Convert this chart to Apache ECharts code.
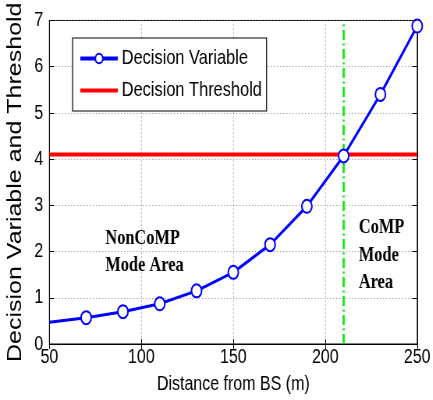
<!DOCTYPE html>
<html>
<head>
<meta charset="utf-8">
<script src="https://cdn.jsdelivr.net/npm/echarts@6/dist/echarts.min.js"></script>
<style>
html,body{margin:0;padding:0;overflow:hidden;background:#fff;}
#outer{width:433px;height:400px;overflow:hidden;}
#chart{width:555px;height:400px;transform:scaleX(0.78);transform-origin:0 0;}
</style>
</head>
<body>
<div id="outer"><div id="chart"></div></div>
<script>
// ---- data ----
const distances = [50, 70, 90, 110, 130, 150, 170, 190, 210, 230, 250];
const decisionVariable = [0.47, 0.57, 0.70, 0.87, 1.15, 1.55, 2.15, 2.98, 4.07, 5.40, 6.88];
const thresholdValue = 4.1;
const compBoundary = 210;
const xTicks = [50, 100, 150, 200, 250];
const yTicks = [0, 1, 2, 3, 4, 5, 6, 7];
const seriesNames = ['Decision Variable', 'Decision Threshold'];
const xTitle = 'Distance from BS (m)';
const yTitle = 'Decision Variable and Threshold';
const noncompText = 'NonCoMP\nMode Area';
const compText = 'CoMP\nMode\nArea';

const chart = echarts.init(document.getElementById('chart'), null, {renderer: 'canvas'});

const dvData = distances.map((d, i) => i === 0 ? {value: [d, decisionVariable[i]], symbol: 'none'} : [d, decisionVariable[i]]);
const thrData = [[xTicks[0], thresholdValue], [xTicks[xTicks.length - 1], thresholdValue]];
const compData = [[compBoundary, yTicks[0]], [compBoundary, yTicks[yTicks.length - 1]]];

const sans = 'Liberation Sans';
const gridLine = {show: true, lineStyle: {color: '#777', type: [1, 3], width: 1}};

chart.setOption({
  animation: false,
  backgroundColor: '#fff',
  grid: {left: 55, right: 13, top: 17, bottom: 55, show: true, borderColor: '#000', borderWidth: 1, backgroundColor: 'transparent'},
  legend: {
    data: [
      {name: seriesNames[0], lineStyle: {width: 4}, itemStyle: {borderWidth: 3}},
      {name: seriesNames[1], lineStyle: {width: 4}, itemStyle: {opacity: 0}}
    ],
    orient: 'vertical',
    left: 93, top: 38,
    padding: [10, 6, 10, 8],
    itemWidth: 48, itemHeight: 12, itemGap: 11,
    borderColor: '#000', borderWidth: 1.2,
    backgroundColor: '#fff',
    textStyle: {fontFamily: sans, fontSize: 21, color: '#000'}
  },
  xAxis: [{
    type: 'value', min: 50, max: 250, interval: 50,
    name: xTitle, nameLocation: 'middle', nameGap: 30,
    nameTextStyle: {fontFamily: sans, fontSize: 20.5, color: '#000'},
    axisLine: {show: true, onZero: false, lineStyle: {color: '#000', width: 1}},
    axisTick: {show: true, inside: true, length: 5, lineStyle: {color: '#000'}},
    axisLabel: {fontFamily: sans, fontSize: 20.5, color: '#000', margin: 3},
    splitLine: gridLine
  }, {
    type: 'value', min: 50, max: 250, interval: 50, position: 'top',
    axisLine: {show: true, lineStyle: {color: '#000'}},
    axisTick: {show: true, inside: true, length: 5, lineStyle: {color: '#000'}},
    axisLabel: {show: false}, splitLine: {show: false}
  }],
  yAxis: [{
    type: 'value', min: 0, max: 7, interval: 1,
    name: yTitle, nameLocation: 'middle', nameGap: 15,
    nameTextStyle: {fontFamily: sans, fontSize: 25, color: '#000'},
    axisLine: {show: true, onZero: false, lineStyle: {color: '#000', width: 1}},
    axisTick: {show: true, inside: true, length: 6, lineStyle: {color: '#000'}},
    axisLabel: {fontFamily: sans, fontSize: 20.5, color: '#000', margin: 8},
    splitLine: gridLine
  }, {
    type: 'value', min: 0, max: 7, interval: 1, position: 'right',
    axisLine: {show: true, lineStyle: {color: '#000'}},
    axisTick: {show: true, inside: true, length: 6, lineStyle: {color: '#000'}},
    axisLabel: {show: false}, splitLine: {show: false}
  }],
  series: [{
    name: 'CoMP boundary', type: 'line', data: compData, symbol: 'none', silent: true,
    lineStyle: {color: '#00ee00', width: 2.6, type: [10, 3.5, 2, 3.5]}, z: 2
  }, {
    name: seriesNames[1], type: 'line', data: thrData, symbol: 'none',
    lineStyle: {color: '#ff0000', width: 4}, itemStyle: {color: '#ff0000'}, z: 3
  }, {
    name: seriesNames[0], type: 'line', data: dvData,
    symbol: 'emptyCircle', symbolSize: 13,
    lineStyle: {color: '#0000ff', width: 3},
    itemStyle: {color: '#0000ff', borderColor: '#0000ff', borderWidth: 2.6},
    z: 4
  }],
  graphic: [{
    type: 'text', left: 135, top: 225,
    style: {text: noncompText, font: 'bold 21px "Liberation Serif"', fill: '#000', lineHeight: 27}
  }, {
    type: 'text', left: 460, top: 214,
    style: {text: compText, font: 'bold 21px "Liberation Serif"', fill: '#000', lineHeight: 27.5}
  }]
});
</script>
</body>
</html>
